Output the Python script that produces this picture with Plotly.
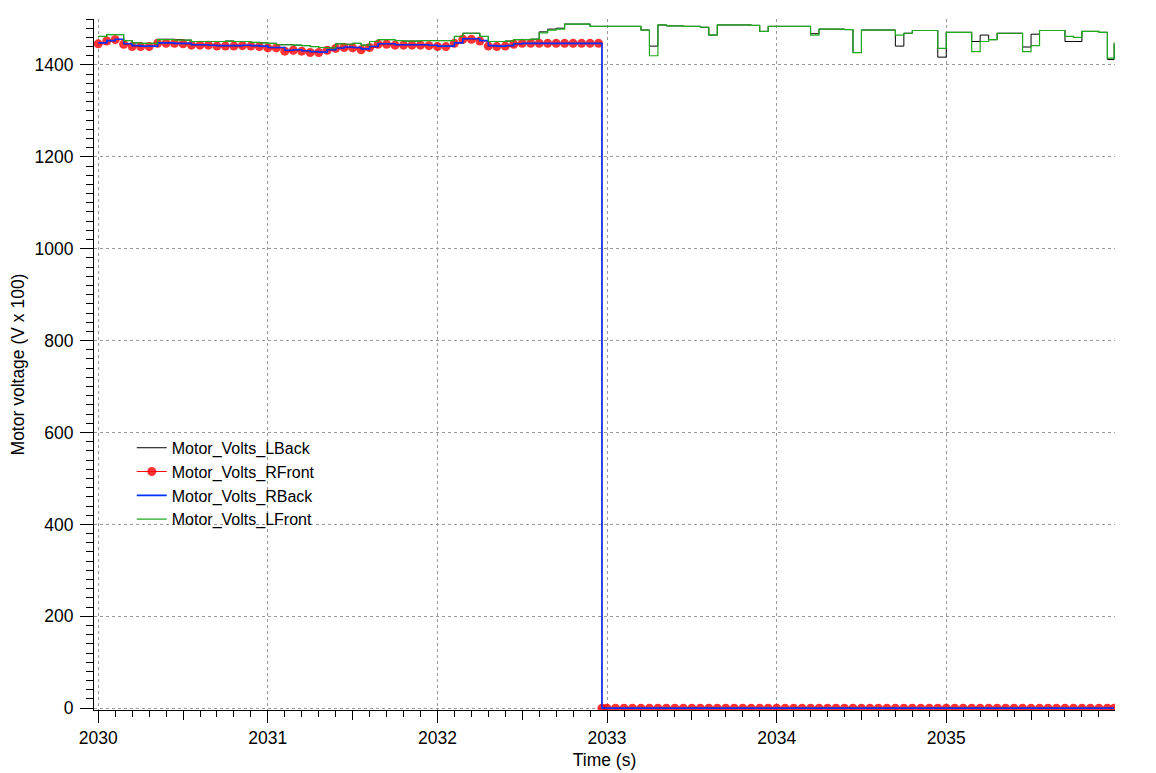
import plotly.graph_objects as go

# ---- sample clock (0.05 s sampling) ----
t_all = [round(2030 + 0.05 * i, 2) for i in range(120)] + [2035.99]
t_right = t_all[:60] + [2032.97] + t_all[60:]

# ---- Motor_Volts_LFront (green) ----
lfront = [
    1462, 1466, 1466, 1453, 1448, 1447, 1447, 1455, 1455, 1454,
    1454, 1451, 1451, 1451, 1451, 1452, 1451, 1451, 1449, 1448,
    1447, 1444, 1444, 1443, 1442, 1440, 1438, 1437, 1446, 1445,
    1447, 1443, 1451, 1455, 1455, 1453, 1452, 1452, 1453, 1453,
    1453, 1453, 1462, 1469, 1469, 1462, 1451, 1451, 1452, 1455,
    1455, 1456, 1470, 1476, 1478, 1489, 1489, 1489, 1484, 1484,
    1484, 1484, 1484, 1484, 1476, 1420, 1487, 1485, 1485, 1484,
    1484, 1482, 1465, 1487, 1487, 1487, 1487, 1486, 1473, 1484,
    1484, 1484, 1484, 1484, 1465, 1478, 1478, 1478, 1477, 1427,
    1476, 1476, 1476, 1476, 1465, 1469, 1475, 1475, 1475, 1436,
    1471, 1471, 1471, 1429, 1451, 1455, 1469, 1469, 1469, 1429,
    1442, 1475, 1475, 1475, 1462, 1460, 1473, 1473, 1471, 1415,
    1449,
]

# ---- Motor_Volts_LBack (black) ----
lback = [
    1462, 1466, 1466, 1453, 1448, 1447, 1447, 1456, 1456, 1455,
    1454, 1451, 1451, 1451, 1451, 1452, 1451, 1451, 1449, 1448,
    1447, 1444, 1444, 1443, 1442, 1440, 1438, 1437, 1446, 1445,
    1447, 1443, 1451, 1455, 1455, 1453, 1452, 1452, 1453, 1453,
    1453, 1453, 1462, 1469, 1469, 1462, 1451, 1451, 1452, 1455,
    1455, 1456, 1472, 1478, 1480, 1489, 1489, 1489, 1484, 1484,
    1484, 1484, 1484, 1484, 1476, 1441, 1487, 1485, 1485, 1484,
    1484, 1482, 1465, 1487, 1487, 1487, 1487, 1486, 1473, 1484,
    1484, 1484, 1484, 1484, 1468, 1478, 1478, 1478, 1477, 1427,
    1476, 1476, 1476, 1476, 1441, 1469, 1475, 1475, 1475, 1417,
    1471, 1471, 1471, 1451, 1465, 1455, 1469, 1469, 1469, 1439,
    1467, 1475, 1475, 1475, 1451, 1451, 1473, 1473, 1471, 1412,
    1446,
]

# ---- Motor_Volts_RFront (red, markers) ----
rfront = [
    1446, 1452, 1455, 1445, 1440, 1440, 1440, 1447, 1447, 1447,
    1446, 1443, 1443, 1443, 1441, 1441, 1441, 1442, 1441, 1440,
    1437, 1437, 1430, 1432, 1430, 1427, 1427, 1432, 1436, 1438,
    1437, 1433, 1438, 1445, 1445, 1443, 1443, 1443, 1443, 1442,
    1440, 1440, 1447, 1456, 1456, 1452, 1441, 1440, 1441, 1445,
    1447, 1447, 1447, 1447, 1447, 1447, 1447, 1447, 1447, 1447,
    0,
    0, 0, 0, 0, 0, 0, 0, 0, 0, 0,
    0, 0, 0, 0, 0, 0, 0, 0, 0, 0,
    0, 0, 0, 0, 0, 0, 0, 0, 0, 0,
    0, 0, 0, 0, 0, 0, 0, 0, 0, 0,
    0, 0, 0, 0, 0, 0, 0, 0, 0, 0,
    0, 0, 0, 0, 0, 0, 0, 0, 0, 0,
    0,
]

# ---- Motor_Volts_RBack (blue) ----
rback = [
    1448, 1453, 1456, 1446, 1442, 1441, 1441, 1448, 1448, 1447,
    1447, 1444, 1444, 1443, 1442, 1442, 1442, 1443, 1442, 1441,
    1438, 1438, 1432, 1433, 1431, 1429, 1428, 1433, 1437, 1439,
    1438, 1435, 1440, 1446, 1446, 1444, 1444, 1444, 1444, 1443,
    1441, 1441, 1448, 1457, 1457, 1453, 1442, 1441, 1442, 1446,
    1447, 1447, 1447, 1447, 1447, 1447, 1447, 1447, 1447, 1447,
    0,
    0, 0, 0, 0, 0, 0, 0, 0, 0, 0,
    0, 0, 0, 0, 0, 0, 0, 0, 0, 0,
    0, 0, 0, 0, 0, 0, 0, 0, 0, 0,
    0, 0, 0, 0, 0, 0, 0, 0, 0, 0,
    0, 0, 0, 0, 0, 0, 0, 0, 0, 0,
    0, 0, 0, 0, 0, 0, 0, 0, 0, 0,
    0,
]

half_ticks = [2030.5, 2031.5, 2032.5, 2033.5, 2034.5, 2035.5]

FONT = "Liberation Sans, Arial, Helvetica, sans-serif"
FS = 17.5
LFS = 16

fig = go.Figure()
fig.add_trace(go.Scatter(x=t_all, y=lback, name="Motor_Volts_LBack", mode="lines",
                         line=dict(color="#000000", width=1, shape="hv")))
fig.add_trace(go.Scatter(x=t_right, y=rfront, name="Motor_Volts_RFront", mode="lines+markers",
                         line=dict(color="#ff0000", width=1, shape="hv"),
                         marker=dict(color="rgba(255,0,0,0.8)", size=9, line=dict(width=0))))
fig.add_trace(go.Scatter(x=t_right, y=rback, name="Motor_Volts_RBack", mode="lines",
                         line=dict(color="#0033ff", width=1.6, shape="hv")))
fig.add_trace(go.Scatter(x=t_all, y=lfront, name="Motor_Volts_LFront", mode="lines",
                         line=dict(color="#1faa1f", width=1.2, shape="hv")))
# carrier for the half-second tick marks
fig.add_trace(go.Scatter(x=[2030.5], y=[None], xaxis="x2", showlegend=False,
                         hoverinfo="skip", mode="markers"))

x_range = [2029.975, 2035.995]

# page body adds an 8px offset, so the figure is sized to the remaining view
fig.update_layout(
    width=1148, height=765,
    margin=dict(l=86, r=41, t=11, b=63),
    plot_bgcolor="white", paper_bgcolor="white",
    font=dict(family=FONT, size=FS, color="black"),
    showlegend=True,
    legend=dict(x=0.037, y=0.404, xanchor="left", yanchor="top",
                bgcolor="rgba(0,0,0,0)", borderwidth=0,
                font=dict(family=FONT, size=LFS, color="black"),
                itemwidth=30),
    xaxis=dict(
        range=x_range, showline=True, linecolor="black", linewidth=1,
        automargin=False,
        ticks="outside", ticklen=12, tickwidth=1, tickcolor="black",
        tick0=2030, dtick=1, tickformat="d",
        showgrid=True, gridcolor="#9a9a9a", griddash="dot", gridwidth=1,
        zeroline=False,
        minor=dict(dtick=0.1, tick0=2030, ticks="outside", ticklen=6,
                   tickcolor="black", tickwidth=1, showgrid=False),
        title=dict(text="Time (s)", font=dict(size=FS), standoff=6),
        tickfont=dict(size=FS),
    ),
    xaxis2=dict(
        overlaying="x", matches="x", anchor="y", side="bottom",
        range=x_range, tickmode="array", tickvals=half_ticks, automargin=False,
        ticks="outside", ticklen=9, tickwidth=1, tickcolor="black",
        showticklabels=False, showgrid=False, showline=False, zeroline=False,
    ),
    yaxis=dict(
        range=[-4, 1500], showline=True, linecolor="black", linewidth=1,
        automargin=False,
        ticks="outside", ticklen=13, tickwidth=1, tickcolor="black",
        tick0=0, dtick=200, ticklabelstandoff=3,
        showgrid=True, gridcolor="#9a9a9a", griddash="dot", gridwidth=1,
        zeroline=False,
        minor=dict(dtick=20, tick0=0, ticks="outside", ticklen=7,
                   tickcolor="black", tickwidth=1, showgrid=False),
        title=dict(text="Motor voltage (V x 100)", font=dict(size=FS), standoff=14),
        tickfont=dict(size=FS),
    ),
)

fig.write_html("out.html")
